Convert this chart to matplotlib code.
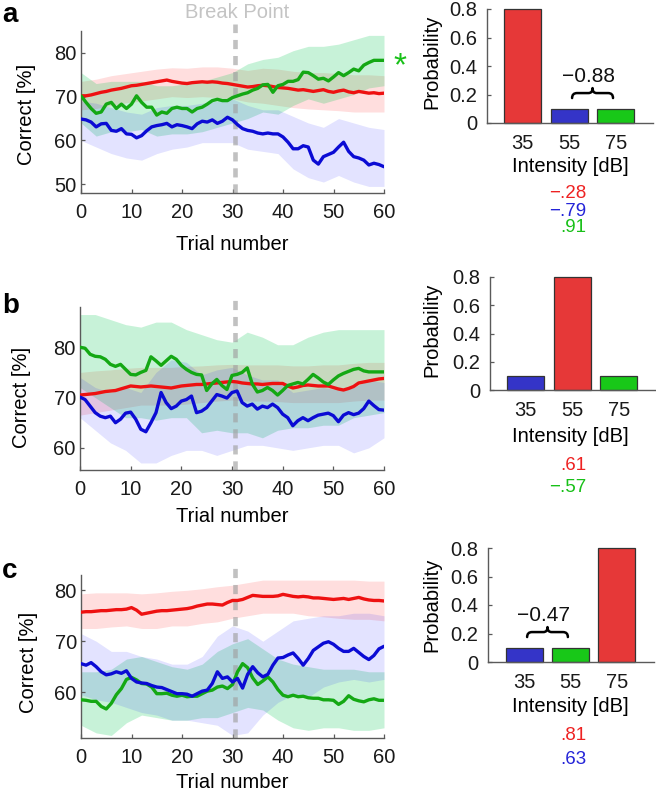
import numpy as np
import matplotlib
matplotlib.use('Agg')
import matplotlib.pyplot as plt
from matplotlib.path import Path
from matplotlib.patches import PathPatch

plt.rcParams['font.family'] = ['Liberation Sans', 'DejaVu Sans']

# ---------------- data ----------------
trials = np.arange(0, 61)
band_trials = np.arange(0, 61, 3)

# panel a
red_a = [70.2, 70.2, 70.4, 70.7, 71.0, 71.2, 71.5, 71.7, 71.9, 72.2,
         72.5, 72.6, 72.8, 73.0, 73.2, 73.4, 73.6, 73.8, 73.5, 73.3,
         73.1, 73.0, 73.2, 73.3, 73.4, 73.3, 73.4, 73.3, 73.1, 73.0,
         72.8, 72.6, 72.4, 72.2, 72.3, 72.5, 72.6, 72.5, 72.3, 72.1,
         72.0, 71.9, 71.7, 71.5, 71.6, 71.4, 71.2, 71.4, 71.6, 71.2,
         71.0, 71.3, 71.5, 71.1, 70.9, 71.2, 71.0, 70.8, 70.9, 70.7, 70.8]
green_a = [70.2, 68.7, 67.3, 66.2, 66.5, 68.3, 68.7, 67.3, 68.3, 67.3,
           68.3, 70.2, 68.7, 67.6, 67.6, 65.8, 66.5, 66.2, 67.3, 67.6,
           67.3, 67.3, 66.5, 67.3, 67.6, 68.3, 69.1, 69.4, 69.1, 69.1,
           69.8, 70.2, 70.6, 70.9, 71.5, 71.9, 72.7, 72.8, 71.0, 72.5,
           72.8, 73.5, 73.5, 73.9, 75.6, 75.5, 74.8, 74.0, 74.2, 73.6,
           74.5, 75.5, 74.8, 75.5, 76.3, 75.9, 77.2, 77.8, 78.3, 78.3, 78.3]
blue_a = [64.9, 64.7, 64.2, 63.1, 63.8, 63.9, 62.3, 62.1, 62.7, 61.5,
          61.4, 60.6, 61.1, 62.2, 63.1, 63.4, 63.6, 63.9, 63.1, 63.6,
          63.4, 63.1, 62.7, 63.8, 64.4, 64.2, 64.7, 63.9, 64.4, 65.3,
          64.7, 63.6, 62.7, 62.3, 62.1, 61.7, 61.5, 61.7, 61.5, 61.5,
          60.8, 59.6, 58.1, 58.1, 58.8, 58.5, 55.5, 54.6, 56.3, 56.8,
          57.3, 58.5, 59.6, 57.5, 56.3, 56.0, 55.5, 54.4, 54.8, 54.5, 54.0]
red_up_a = [73.5, 74.0, 74.8, 75.3, 75.8, 76.3, 76.6, 76.5, 76.8, 76.8, 76.5,
            76.0, 76.5, 76.3, 75.8, 75.5, 75.5, 75.3, 75.0, 75.0, 74.8]
red_lo_a = [67.0, 67.3, 68.0, 68.6, 69.0, 69.5, 70.0, 69.8, 70.0, 69.8, 69.5,
            68.8, 68.5, 68.0, 67.5, 67.2, 67.0, 66.8, 66.5, 66.5, 66.5]
green_up_a = [75.5, 73.0, 73.5, 73.5, 73.5, 72.5, 72.5, 73.0, 73.5, 74.5, 75.5,
              77.5, 78.5, 79.0, 80.5, 81.5, 81.5, 82.0, 83.0, 84.0, 84.0]
green_lo_a = [64.0, 61.0, 62.0, 62.0, 62.5, 61.0, 61.5, 61.5, 62.0, 63.0, 64.0,
              65.0, 66.5, 66.0, 68.0, 69.5, 68.5, 69.5, 70.5, 72.0, 72.5]
blue_up_a = [69.0, 68.5, 67.5, 66.5, 66.0, 67.5, 68.0, 68.0, 68.5, 69.0, 69.5,
             68.0, 67.0, 67.0, 65.5, 64.0, 63.0, 65.0, 64.0, 63.0, 62.5]
blue_lo_a = [60.0, 58.5, 57.0, 56.0, 55.5, 57.0, 58.0, 58.5, 59.5, 59.5, 59.5,
             58.0, 57.5, 57.0, 53.5, 51.5, 50.5, 52.0, 50.5, 49.5, 49.5]

# panel b
red_b = [70.5, 70.6, 70.7, 70.8, 71.0, 71.2, 71.3, 71.4, 71.7, 72.0,
         72.3, 72.2, 72.1, 72.2, 72.3, 72.2, 72.1, 72.0, 71.9, 72.1,
         72.3, 72.4, 72.5, 72.6, 72.6, 72.7, 72.8, 72.9, 73.0, 73.1,
         73.2, 73.1, 72.9, 72.8, 72.7, 72.7, 72.6, 72.7, 72.8, 72.8,
         72.8, 72.3, 71.9, 72.1, 72.4, 72.5, 72.4, 72.3, 72.3, 72.3,
         72.0, 71.7, 71.5, 71.8, 72.2, 72.9, 73.1, 73.3, 73.5, 73.7, 73.8]
green_b = [80.0, 79.8, 78.6, 78.2, 78.1, 77.6, 76.6, 76.2, 76.6, 75.6,
           74.6, 74.5, 75.0, 75.4, 78.1, 77.3, 76.4, 77.3, 78.2, 77.6,
           76.4, 75.6, 75.0, 74.6, 74.5, 71.4, 72.7, 73.6, 72.4, 71.6,
           74.4, 74.6, 75.0, 75.9, 72.7, 71.1, 71.4, 72.0, 71.4, 70.5,
           71.4, 72.4, 72.7, 73.0, 72.7, 73.6, 74.6, 73.9, 73.1, 72.6,
           73.5, 74.3, 74.8, 75.2, 75.6, 75.8, 75.3, 75.1, 75.1, 75.1, 75.1]
blue_b = [70.1, 69.6, 68.3, 67.0, 66.3, 66.0, 66.3, 65.0, 65.7, 66.9,
          67.1, 65.7, 63.7, 63.2, 65.0, 67.0, 71.0, 69.0, 67.8, 68.3,
          69.3, 69.6, 70.3, 67.0, 67.3, 68.0, 69.3, 70.6, 70.3, 69.9,
          71.0, 71.3, 69.0, 68.3, 68.7, 67.7, 68.3, 68.0, 68.7, 68.0,
          66.7, 66.0, 64.4, 65.4, 66.0, 65.4, 66.0, 66.5, 66.7, 66.9,
          66.4, 65.2, 66.5, 67.0, 66.6, 66.9, 67.8, 69.3, 68.4, 67.6, 67.5]
red_up_b = [75.0, 75.3, 75.5, 75.8, 76.0, 76.0, 76.0, 76.2, 76.3, 76.5, 76.6,
            76.5, 76.5, 76.5, 76.3, 76.3, 76.5, 76.5, 76.8, 77.0, 77.0]
red_lo_b = [66.5, 67.0, 67.5, 68.0, 68.5, 68.5, 68.5, 68.7, 69.0, 69.3, 69.5,
            69.3, 69.3, 69.2, 69.0, 69.0, 69.0, 69.0, 69.3, 69.5, 69.5]
green_up_b = [86.5, 86.5, 85.5, 84.5, 84.0, 85.0, 85.0, 83.5, 82.5, 81.5, 81.0,
              83.0, 82.0, 80.5, 80.5, 82.0, 83.0, 83.5, 83.5, 83.5, 83.5]
green_lo_b = [72.0, 70.0, 68.0, 66.0, 66.0, 65.5, 66.0, 66.0, 63.0, 63.5, 63.0,
              63.0, 62.0, 63.5, 64.0, 64.0, 64.5, 64.5, 66.0, 66.5, 67.0]
blue_up_b = [74.0, 72.0, 71.0, 72.0, 71.0, 75.0, 77.5, 77.0, 74.5, 75.5, 76.0,
             74.5, 73.5, 73.5, 71.0, 71.5, 72.0, 71.5, 72.0, 73.5, 73.0]
blue_lo_b = [66.0, 63.5, 61.0, 59.5, 57.0, 57.0, 58.5, 59.5, 59.5, 58.5, 59.5,
             60.5, 60.5, 60.0, 59.5, 60.0, 60.5, 60.5, 59.0, 60.0, 62.0]

# panel c
red_c = [75.7, 75.8, 75.8, 75.9, 76.0, 76.0, 76.1, 76.2, 76.2, 76.3,
         76.6, 76.1, 75.3, 75.5, 75.7, 75.9, 76.0, 76.0, 76.1, 76.2,
         76.3, 76.4, 76.6, 76.9, 77.1, 77.3, 77.3, 77.2, 77.1, 77.6,
         78.0, 78.0, 78.2, 78.6, 79.0, 78.9, 78.8, 78.8, 78.8, 78.9,
         79.2, 79.0, 78.8, 78.7, 78.8, 78.7, 78.5, 78.5, 78.4, 78.3,
         78.2, 78.3, 78.4, 78.2, 78.4, 78.6, 78.3, 78.1, 78.0, 78.0, 77.9]
green_c = [58.5, 58.4, 58.2, 58.2, 57.2, 56.7, 57.8, 59.5, 60.7, 62.5,
           62.9, 62.4, 61.7, 61.6, 61.0, 59.7, 59.7, 59.8, 59.4, 59.2,
           59.4, 59.1, 59.2, 59.2, 59.7, 60.2, 60.4, 61.0, 61.2, 60.7,
           61.5, 64.0, 65.6, 64.8, 62.8, 61.5, 62.2, 63.0, 62.0, 60.5,
           59.4, 59.1, 59.4, 59.1, 59.2, 58.9, 58.8, 58.8, 58.5, 58.5,
           58.4, 57.6, 58.2, 59.3, 58.6, 58.3, 58.1, 58.5, 58.7, 58.4, 58.4]
blue_c = [65.6, 65.3, 65.8, 65.0, 64.0, 63.4, 63.6, 64.0, 63.7, 64.2,
          62.7, 62.0, 61.8, 61.7, 61.3, 61.0, 60.9, 60.5, 60.1, 59.7,
          59.7, 59.6, 59.2, 59.7, 60.2, 60.4, 61.7, 64.0, 62.7, 63.0,
          62.0, 62.7, 60.8, 63.5, 65.0, 63.8, 63.0, 63.5, 65.3, 66.7,
          66.8, 67.3, 67.7, 66.6, 65.3, 66.6, 68.2, 68.9, 69.6, 69.9,
          69.4, 68.6, 68.0, 68.0, 68.6, 67.8, 67.0, 66.4, 67.2, 68.5, 69.0]
red_up_c = [79.3, 79.5, 79.5, 79.5, 79.3, 79.5, 79.8, 80.0, 80.3, 80.7, 81.0,
            81.5, 82.0, 82.0, 82.0, 82.0, 82.0, 82.0, 82.0, 81.8, 81.8]
red_lo_c = [72.5, 72.5, 72.8, 73.0, 72.5, 72.5, 73.0, 73.0, 73.5, 73.8, 74.5,
            75.0, 75.5, 75.5, 75.5, 75.0, 74.8, 74.5, 74.3, 74.3, 74.0]
green_up_c = [64.0, 64.0, 64.5, 66.5, 67.0, 66.0, 65.0, 64.5, 65.5, 68.0, 69.5,
              70.5, 68.5, 66.5, 65.5, 65.0, 64.5, 64.5, 64.5, 64.0, 64.0]
green_lo_c = [53.5, 52.0, 51.5, 54.0, 55.5, 55.0, 54.5, 54.5, 55.0, 55.0, 56.0,
              57.0, 56.5, 54.5, 53.0, 52.5, 53.0, 53.0, 52.5, 52.5, 53.0]
blue_up_c = [71.5, 70.0, 68.0, 68.0, 67.0, 66.5, 65.5, 65.5, 67.0, 71.0, 73.0,
             72.0, 70.0, 72.0, 74.0, 74.5, 75.0, 75.0, 75.5, 75.5, 75.0]
blue_lo_c = [59.5, 58.5, 58.0, 57.0, 56.0, 55.5, 54.5, 54.5, 54.0, 53.5, 51.5,
             52.0, 55.5, 58.0, 59.5, 59.0, 61.0, 62.0, 62.5, 62.0, 62.5]

break_point = 30.5

# bar charts
intensity_labels = ['35', '55', '75']
prob_a = [0.8, 0.1, 0.1]
prob_b = [0.1, 0.8, 0.1]
prob_c = [0.1, 0.1, 0.8]
bar_cols_a = ['red', 'blue', 'green']
bar_cols_b = ['blue', 'red', 'green']
bar_cols_c = ['blue', 'green', 'red']
corr_a = [('\u2212.28', 'red'), ('\u2212.79', 'blue'), ('.91', 'green')]
corr_b = [('.61', 'red'), ('\u2212.57', 'green')]
corr_c = [('.81', 'red'), ('.63', 'blue')]
brace_a = (2, 3, '\u22120.88')
brace_c = (1, 2, '\u22120.47')

# ---------------- style ----------------
LINE = {'red': '#ee1111', 'blue': '#0b0bd4', 'green': '#14a814'}
FILL = {'red': ('#ff0000', 0.13), 'blue': ('#0000ff', 0.11), 'green': ('#00c850', 0.22)}
BAR = {'red': '#e63838', 'blue': '#3434c8', 'green': '#18c818'}
TXT = {'red': '#ee2222', 'blue': '#2424d8', 'green': '#18c018'}
SPINE = '#5a5a5a'
FS = 14.5

W, H = 656, 795
fig = plt.figure(figsize=(W / 100, H / 100), dpi=100)


def px_axes(l, t, r, b):
    return fig.add_axes([l / W, 1 - b / H, (r - l) / W, (b - t) / H])


def ftext(x, y, s, **kw):
    kw.setdefault('fontsize', FS)
    return fig.text(x / W, 1 - y / H, s, **kw)


def style_axes(ax):
    for s in ('top', 'right'):
        ax.spines[s].set_visible(False)
    for s in ('left', 'bottom'):
        ax.spines[s].set_color(SPINE)
        ax.spines[s].set_linewidth(1.0)


def line_panel(ax, ylim, yticks, red, green, blue, bands):
    for key in ('red', 'green', 'blue'):
        lo, up = bands[key]
        c, a = FILL[key]
        ax.fill_between(band_trials, lo, up, color=c, alpha=a, lw=0, zorder=1)
    ax.axvline(break_point, ymin=0, ymax=1.045, color='#a0a0a0', lw=3.3,
               ls=(0, (2.0, 1.5)), alpha=0.65, clip_on=False, zorder=2)
    for key, vals in (('red', red), ('green', green), ('blue', blue)):
        ax.plot(trials, vals, color=LINE[key], lw=2.4, zorder=3,
                solid_capstyle='round', solid_joinstyle='round')
    ax.set_xlim(0, 60)
    ax.set_ylim(*ylim)
    ax.set_xticks(np.arange(0, 61, 10))
    ax.set_yticks(yticks)
    style_axes(ax)
    ax.tick_params(axis='both', direction='in', length=3, width=0.9,
                   color=SPINE, labelsize=FS, labelcolor='#1a1a1a')
    ax.tick_params(axis='x', pad=7)
    ax.tick_params(axis='y', pad=3)


def brace(ax, x0, x1, y0, y1, lw=1.8):
    xc = (x0 + x1) / 2
    ym = (y0 + y1) / 2
    w = x1 - x0
    verts = [(x0, y0), (x0, ym), (x0 + 0.12 * w, ym),
             (xc - 0.1 * w, ym),
             (xc, ym), (xc, y1),
             (xc, ym), (xc + 0.1 * w, ym),
             (x1 - 0.12 * w, ym),
             (x1, ym), (x1, y0)]
    codes = [Path.MOVETO, Path.CURVE3, Path.CURVE3, Path.LINETO,
             Path.CURVE3, Path.CURVE3, Path.CURVE3, Path.CURVE3,
             Path.LINETO, Path.CURVE3, Path.CURVE3]
    ax.add_patch(PathPatch(Path(verts, codes), fill=False, lw=lw,
                           edgecolor='black', clip_on=False,
                           capstyle='round', joinstyle='round'))


def bar_panel(ax, probs, cols, x_left):
    pos = np.arange(1, 4)
    ax.bar(pos, probs, width=0.8, color=[BAR[c] for c in cols],
           edgecolor='#333333', lw=0.9, clip_on=False, zorder=2)
    ax.set_xlim(x_left, 3.8)
    ax.set_ylim(0, 0.8)
    ax.set_xticks(pos)
    ax.set_xticklabels(intensity_labels)
    ax.set_yticks([0, 0.2, 0.4, 0.6, 0.8])
    ax.set_yticklabels(['0', '0.2', '0.4', '0.6', '0.8'])
    style_axes(ax)
    ax.tick_params(axis='both', direction='in', length=3, width=0.9,
                   color=SPINE, labelsize=FS, labelcolor='#1a1a1a')
    ax.tick_params(axis='x', pad=8)
    ax.tick_params(axis='y', pad=7)


# ---------------- panel a ----------------
ax_a = px_axes(81, 31, 384, 193)
line_panel(ax_a, (48, 85), [50, 60, 70, 80], red_a, green_a, blue_a,
           {'red': (red_lo_a, red_up_a), 'green': (green_lo_a, green_up_a),
            'blue': (blue_lo_a, blue_up_a)})
ftext(237, 13, 'Break Point', ha='center', va='center', color='#c4c4c4')
ftext(400, 67, '*', ha='center', va='center', color=TXT['green'], fontsize=24)

# ---------------- panel b ----------------
ax_b = px_axes(80, 307, 384, 470)
line_panel(ax_b, (55.6, 88), [60, 70, 80], red_b, green_b, blue_b,
           {'red': (red_lo_b, red_up_b), 'green': (green_lo_b, green_up_b),
            'blue': (blue_lo_b, blue_up_b)})

# ---------------- panel c ----------------
ax_c = px_axes(81, 575, 384, 738)
line_panel(ax_c, (51, 83), [60, 70, 80], red_c, green_c, blue_c,
           {'red': (red_lo_c, red_up_c), 'green': (green_lo_c, green_up_c),
            'blue': (blue_lo_c, blue_up_c)})

for ylab_x, ylab_y, xl_y, lab, lab_y in ((26, 114, 245, 'a', 22),
                                        (22, 397, 517, 'b', 313),
                                        (29, 662, 783, 'c', 578)):
    ftext(ylab_x, ylab_y, 'Correct [%]', rotation=90, ha='center', va='center')
    ftext(232, xl_y, 'Trial number', ha='center', va='center')
    ftext(2, lab_y, lab, ha='left', va='baseline', fontsize=20, fontweight='bold')

# ---------------- bar panels ----------------
bx_a = px_axes(487, 9, 653, 123)
bar_panel(bx_a, prob_a, bar_cols_a, 0.23)
bx_b = px_axes(490, 277, 656, 390)
bar_panel(bx_b, prob_b, bar_cols_b, 0.23)
bx_c = px_axes(488, 548, 654, 662)
bar_panel(bx_c, prob_c, bar_cols_c, 0.215)

for ax_, (i0, i1, label) in ((bx_a, brace_a), (bx_c, brace_c)):
    brace(ax_, i0 + 0.06, i1 - 0.06, 0.175, 0.245)
    ax_.text((i0 + i1) / 2 - 0.09, 0.325, label, ha='center', va='center',
             fontsize=FS + 0.5, color='#111111')

for prob_y, int_y, corrs, corr_y in ((62, 166, corr_a, [193, 211, 228]),
                                     (330, 436, corr_b, [465, 487]),
                                     (605, 706, corr_c, [736, 759])):
    ftext(432, prob_y, 'Probability', rotation=90, ha='center', va='center')
    ftext(570, int_y, 'Intensity [dB]', ha='center', va='center')
    for (s, c), yy in zip(corrs, corr_y):
        ftext(586, yy, s, ha='right', va='center', color=TXT[c], fontsize=13.5)

fig.savefig('out.png', dpi=100)
